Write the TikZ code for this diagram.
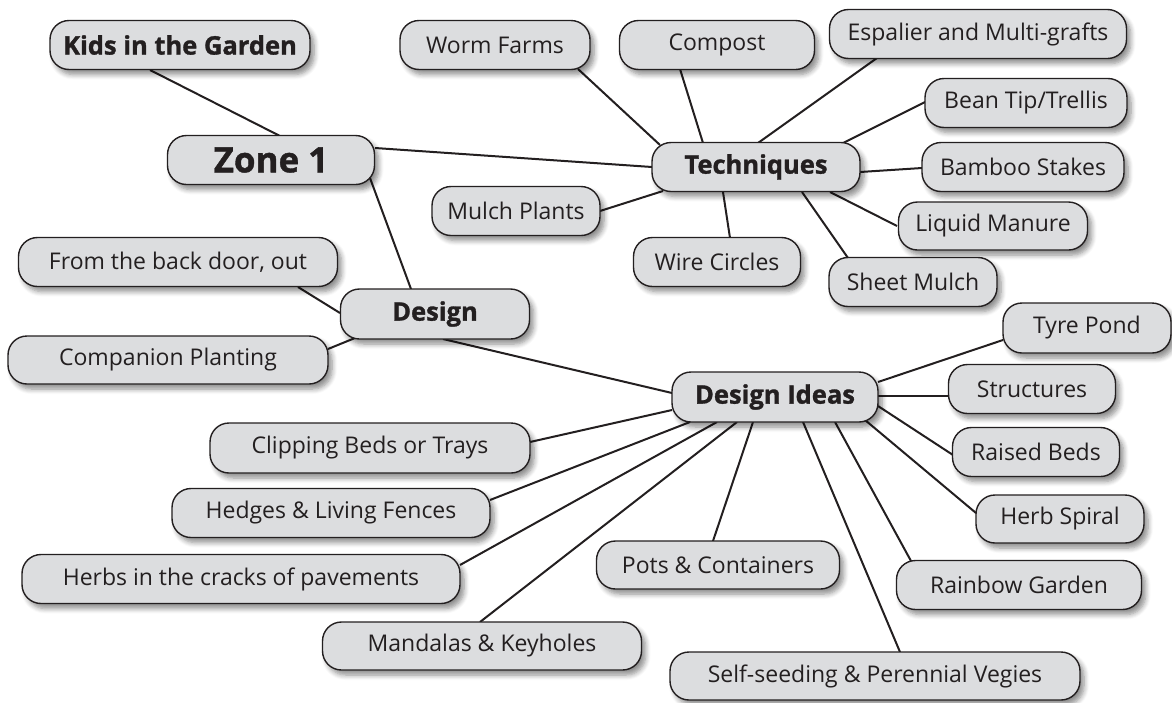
\documentclass[tikz,border=0pt]{standalone}
\usepackage{fontspec}
\setmainfont{Open Sans}[BoldFeatures={FakeBold=1.2}]
\usetikzlibrary{calc,shadows.blur}
\definecolor{ink}{HTML}{231F20}
\definecolor{boxfill}{HTML}{DCDDDF}
\pgfdeclarelayer{background}
\pgfsetlayers{background,main}
\tikzset{
  box/.style={draw=ink, line width=1.4pt, fill=boxfill, rounded corners=19pt,
    inner sep=0pt, minimum height=49pt, text=ink,
    font=\fontsize{23}{26}\selectfont,
    blur shadow={shadow xshift=4pt, shadow yshift=-5pt, shadow blur steps=6,
      shadow opacity=45, shadow blur radius=5pt}},
  bbox/.style={box, font=\fontsize{25.5}{29}\selectfont\bfseries},
  conn/.style={draw=ink, line width=2pt},
}
\begin{document}
\begin{tikzpicture}[x=1pt,y=-1pt]
\useasboundingbox (0,0) rectangle (1172,702);
% nodes
\node[bbox, minimum width=260] (kids) at (180,45) {Kids in the Garden};
\node[bbox, minimum width=207, font=\fontsize{35}{40}\selectfont\bfseries] (zone) at (271,160) {Zone 1};
\node[box, minimum width=190] (worm) at (495,45) {Worm Farms};
\node[box, minimum width=195] (compost) at (717,45) {Compost};
\node[box, minimum width=297] (esp) at (978,34) {Espalier and Multi-grafts};
\node[box, minimum width=202] (bean) at (1026,103) {Bean Tip/Trellis};
\node[bbox, minimum width=208] (tech) at (756,167) {Techniques};
\node[box, minimum width=202] (bamboo) at (1023,167) {Bamboo Stakes};
\node[box, minimum width=168] (mulch) at (516,211) {Mulch Plants};
\node[box, minimum width=189, minimum height=48] (liquid) at (993,226) {Liquid Manure};
\node[box, minimum width=167] (wire) at (717,262) {Wire Circles};
\node[box, minimum width=168] (sheet) at (913,282) {Sheet Mulch};
\node[box, minimum width=319] (back) at (178,262) {From the back door, out};
\node[bbox, minimum width=189, minimum height=50] (design) at (435,314) {Design};
\node[box, minimum width=320, minimum height=48] (comp) at (168,360) {Companion Planting};
\node[box, minimum width=168, minimum height=50] (tyre) at (1087,328) {Tyre Pond};
\node[box, minimum width=167] (struct) at (1032,389) {Structures};
\node[bbox, minimum width=206, minimum height=50] (ideas) at (775,397) {Design Ideas};
\node[box, minimum width=167] (raised) at (1036,452) {Raised Beds};
\node[box, minimum width=320, minimum height=50] (clip) at (370,448) {Clipping Beds or Trays};
\node[box, minimum width=318] (hedges) at (331,513) {Hedges \& Living Fences};
\node[box, minimum width=168, minimum height=48] (spiral) at (1060,519) {Herb Spiral};
\node[box, minimum width=438] (cracks) at (241,579) {Herbs in the cracks of pavements};
\node[box, minimum width=243, minimum height=48] (pots) at (718,565) {Pots \& Containers};
\node[box, minimum width=245] (rainbow) at (1019,585) {Rainbow Garden};
\node[box, minimum width=319, minimum height=48] (mandalas) at (482,646) {Mandalas \& Keyholes};
\node[box, minimum width=410, minimum height=48] (self) at (875,676) {Self-seeding \& Perennial Vegies};
% connectors
\begin{pgfonlayer}{background}
\draw[conn] ($(kids.center)+(-30,25)$) -- ($(zone.center)+(9,-24)$);
\draw[conn] ($(zone.center)+(104,-12)$) -- ($(tech.center)+(-104,0)$);
\draw[conn] ($(zone.center)+(99,18)$) -- ($(design.center)+(-24,-25)$);
\draw[conn] ($(worm.center)+(83,24)$) -- ($(tech.center)+(-96,-22)$);
\draw[conn] ($(compost.center)+(-37,24)$) -- ($(tech.center)+(-53,-24)$);
\draw[conn] ($(esp.center)+(-101,24)$) -- ($(tech.center)+(2,-24)$);
\draw[conn] ($(bean.center)+(-101,-1)$) -- ($(tech.center)+(87,-24)$);
\draw[conn] ($(bamboo.center)+(-101,1)$) -- ($(tech.center)+(104,5)$);
\draw[conn] ($(liquid.center)+(-96,0)$) -- ($(tech.center)+(74,25)$);
\draw[conn] ($(sheet.center)+(-65,-24)$) -- ($(tech.center)+(46,25)$);
\draw[conn] ($(wire.center)+(13,-24)$) -- ($(tech.center)+(-33,25)$);
\draw[conn] ($(mulch.center)+(84,0)$) -- ($(tech.center)+(-93,24)$);
\draw[conn] ($(back.center)+(120,25)$) -- ($(design.center)+(-95,-1)$);
\draw[conn] ($(comp.center)+(160,-11)$) -- ($(design.center)+(-80,24)$);
\draw[conn] ($(design.center)+(8,25)$) -- ($(ideas.center)+(-103,-4)$);
\draw[conn] ($(ideas.center)+(-103,13)$) -- ($(clip.center)+(160,-6)$);
\draw[conn] ($(ideas.center)+(-85,25)$) -- ($(hedges.center)+(159,-13)$);
\draw[conn] ($(ideas.center)+(-58,25)$) -- ($(cracks.center)+(219,-14)$);
\draw[conn] ($(ideas.center)+(-38,25)$) -- ($(mandalas.center)+(-2,-24)$);
\draw[conn] ($(ideas.center)+(-22,25)$) -- ($(pots.center)+(-5,-24)$);
\draw[conn] ($(ideas.center)+(28,25)$) -- ($(self.center)+(25,-24)$);
\draw[conn] ($(ideas.center)+(60,25)$) -- ($(rainbow.center)+(-108,-24)$);
\draw[conn] ($(ideas.center)+(90,23)$) -- ($(spiral.center)+(-84,-6)$);
\draw[conn] ($(ideas.center)+(103,9)$) -- ($(raised.center)+(-83,3)$);
\draw[conn] ($(ideas.center)+(103,-1)$) -- ($(struct.center)+(-83,7)$);
\draw[conn] ($(ideas.center)+(103,-15)$) -- ($(tyre.center)+(-84,12)$);
\end{pgfonlayer}
\end{tikzpicture}
\end{document}
